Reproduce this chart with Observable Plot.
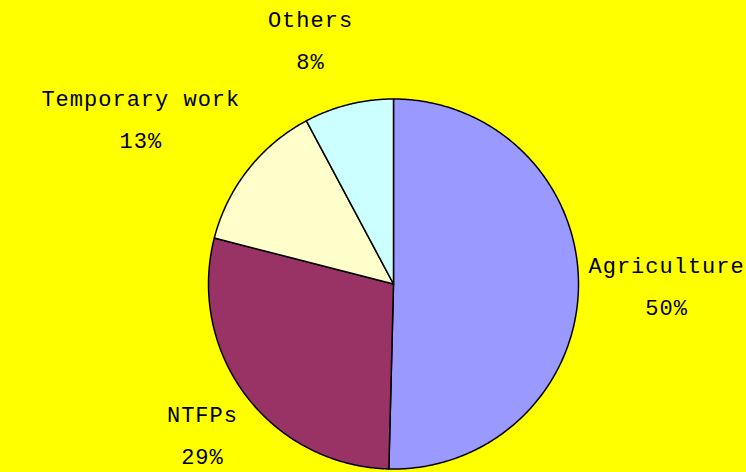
<!DOCTYPE html>
<html>
<head>
<meta charset="utf-8">
<script src="https://cdn.jsdelivr.net/npm/d3@7"></script>
<script src="https://cdn.jsdelivr.net/npm/@observablehq/plot@0.6"></script>
<style>
  html, body { margin: 0; padding: 0; background: #FFFF00; }
  #chart svg { display: block; }
</style>
</head>
<body>
<div id="chart"></div>
<script>
// ---- data ----
const categories = ["Agriculture", "NTFPs", "Temporary work", "Others"];
const shares = [50.4, 28.6, 13.2, 7.8];
const colors = ["#9999FF", "#993366", "#FFFFCC", "#CCFFFF"];

// ---- layout ----
const W = 746, H = 472;
const cx = 393, cy = 283.5, R = 185;
const fontSize = 22, letterSp = 1;
const fontFamily = "'Liberation Mono', 'Courier New', monospace";
const Dx = 195, Ay = 225, By = 24, edge = 36;

const ctx = document.createElement("canvas").getContext("2d");
ctx.font = `${fontSize}px ${fontFamily}`;
const textWidth = s => ctx.measureText(s).width + letterSp * s.length;

const total = d3.sum(shares);
let cum = 0;
const slices = categories.map((name, i) => {
  const a0 = cum / total * 2 * Math.PI;
  cum += shares[i];
  const a1 = cum / total * 2 * Math.PI;
  return {name, value: shares[i], a0, a1};
});

// polygon outline points for each slice (unit circle, angle clockwise from top)
const pts = [];
for (const s of slices) {
  pts.push({name: s.name, x: 0, y: 0});
  const n = Math.max(2, Math.ceil((s.a1 - s.a0) / (Math.PI / 360)));
  for (let k = 0; k <= n; k++) {
    const a = s.a0 + (s.a1 - s.a0) * k / n;
    pts.push({name: s.name, x: Math.sin(a), y: Math.cos(a)});
  }
}

// label positions: box pushed outward along the mid-angle ray, lines centred within the box,
// kept inside the picture
const labels = slices.map(s => {
  const m = (s.a0 + s.a1) / 2;
  const ux = Math.sin(m), uy = Math.cos(m);
  const pct = `${Math.round(s.value)}%`;
  const w = Math.max(textWidth(s.name), textWidth(pct));
  const px = Dx * ux + Math.tanh(ux * 5) * w / 2;
  let py = Ay * uy + By * Math.sign(uy) * Math.min(1, Math.abs(uy) * 4);
  py = Math.max(py, cy + edge - H);   // bottom limit (data y is up)
  py = Math.min(py, cy - edge);       // top limit
  return {name: s.name, text: `${s.name}\n${pct}`, x: px / R, y: py / R};
});

const chart = Plot.plot({
  width: W,
  height: H,
  margin: 0,
  style: {background: "#FFFF00", fontFamily, fontSize: fontSize + "px", letterSpacing: letterSp + "px"},
  x: {domain: [-1, 1], range: [cx - R, cx + R], axis: null},
  y: {domain: [-1, 1], range: [cy + R, cy - R], axis: null},
  color: {domain: categories, range: colors},
  marks: [
    Plot.line(pts, {x: "x", y: "y", z: "name", fill: "name", stroke: "black", strokeWidth: 1.5, curve: "linear-closed", strokeLinejoin: "round"}),
    Plot.text(labels, {x: "x", y: "y", text: "text", fill: "#000", lineHeight: 42 / fontSize, lineAnchor: "middle", fontSize, dy: -7})
  ]
});
document.getElementById("chart").appendChild(chart);
</script>
</body>
</html>
